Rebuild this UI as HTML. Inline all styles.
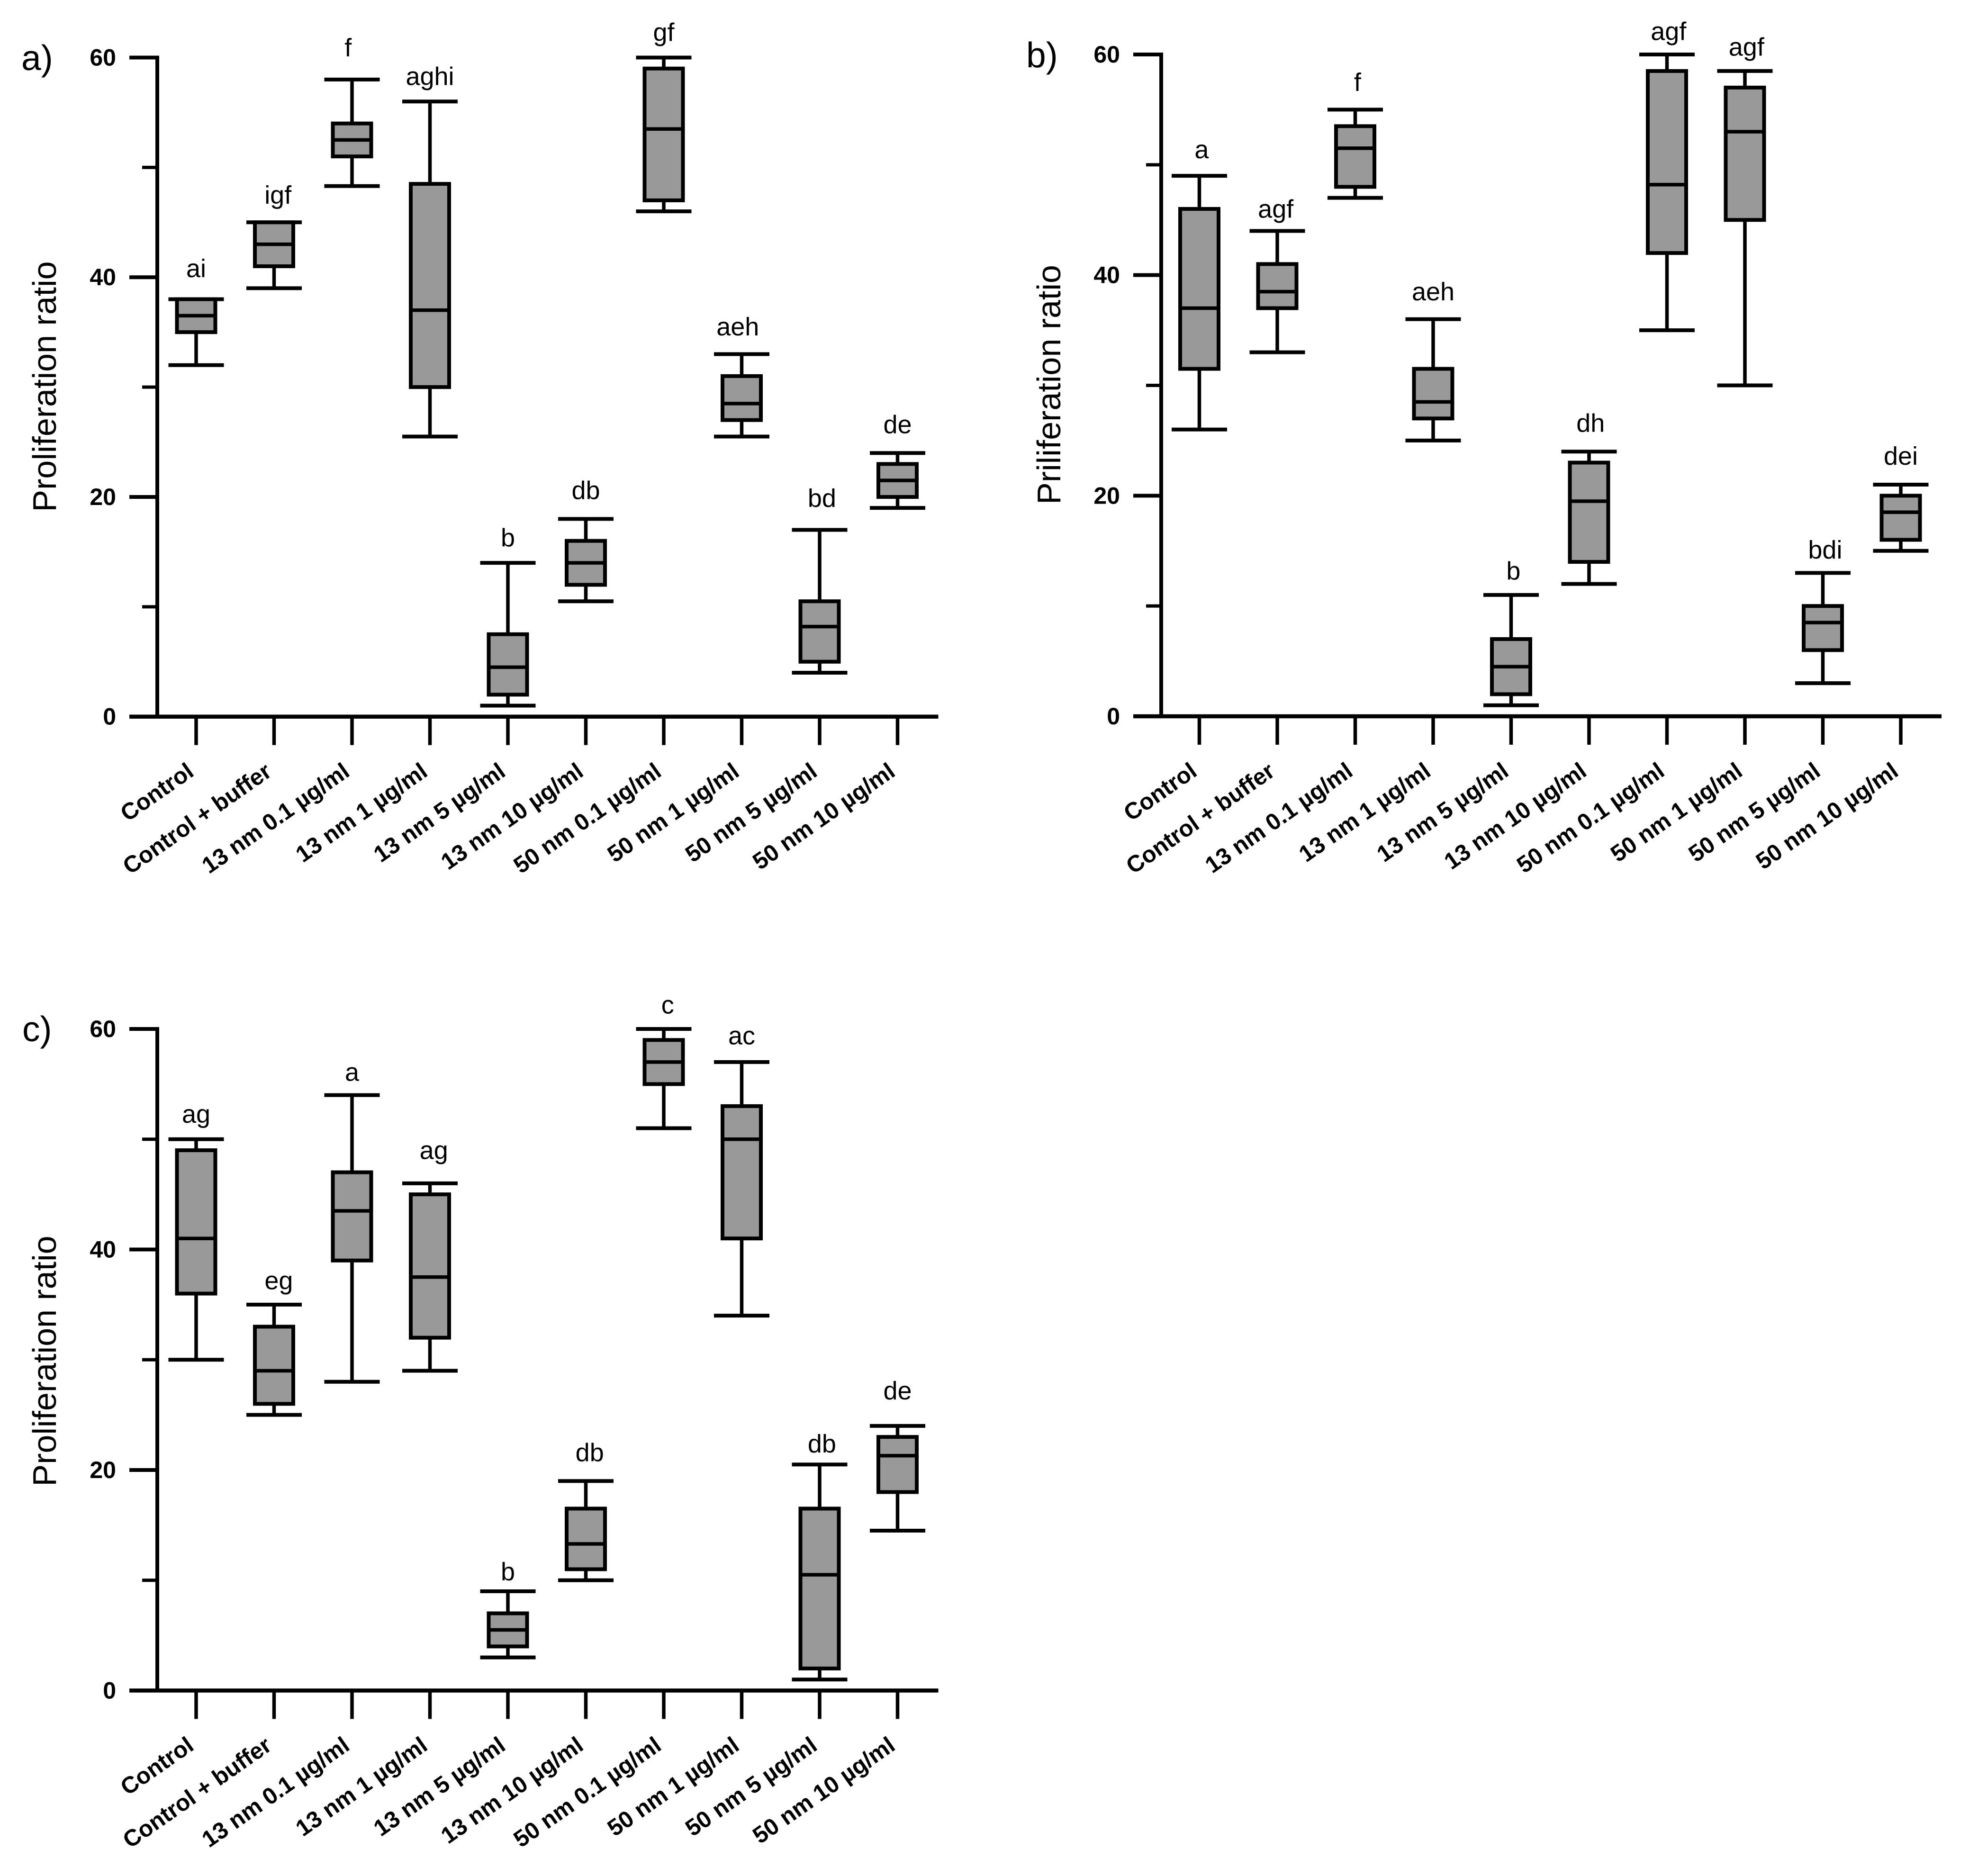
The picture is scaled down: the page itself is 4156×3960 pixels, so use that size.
<!DOCTYPE html>
<html lang="en">
<head>
<meta charset="utf-8">
<title>Proliferation ratio box plots</title>
<style>
  html, body { margin: 0; padding: 0; background: #fff; }
  #figure { display: block; width: 4156px; height: 3960px; }
  text { font-family: "Liberation Sans", sans-serif; fill: #000; }
</style>
</head>
<body>
<svg id="figure" xmlns="http://www.w3.org/2000/svg" width="4156" height="3960" viewBox="0 0 4156 3960"></svg>
<script>
// Shared categories and axis ticks
const categories = ["Control", "Control + buffer", "13 nm 0.1 µg/ml", "13 nm 1 µg/ml", "13 nm 5 µg/ml", "13 nm 10 µg/ml", "50 nm 0.1 µg/ml", "50 nm 1 µg/ml", "50 nm 5 µg/ml", "50 nm 10 µg/ml"];
const yMajorTicks = [0, 20, 40, 60];
const yMinorTicks = [10, 30, 50];

// Panel a
const aLow = [32, 39, 48.3, 25.5, 1, 10.5, 46, 25.5, 4, 19];
const aQ1 = [35, 41, 51, 30, 2, 12, 47, 27, 5, 20];
const aMedian = [36.5, 43, 52.5, 37, 4.5, 14, 53.5, 28.5, 8.2, 21.5];
const aQ3 = [38, 45, 54, 48.5, 7.5, 16, 59, 31, 10.5, 23];
const aHigh = [38, 45, 58, 56, 14, 18, 60, 33, 17, 24];
const aLetters = ["ai", "igf", "f", "aghi", "b", "db", "gf", "aeh", "bd", "de"];
const aLetterValues = [40, 46.7, 60.1, 57.5, 15.5, 19.8, 61.5, 34.7, 19.1, 25.8];
const aLetterNudge = [0, 0.05, -0.05, 0, 0, 0, 0, -0.05, 0.03, 0];

// Panel b
const bLow = [26, 33, 47, 25, 1, 12, 35, 30, 3, 15];
const bQ1 = [31.5, 37, 48, 27, 2, 14, 42, 45, 6, 16];
const bMedian = [37, 38.5, 51.5, 28.5, 4.5, 19.5, 48.2, 53, 8.5, 18.5];
const bQ3 = [46, 41, 53.5, 31.5, 7, 23, 58.5, 57, 10, 20];
const bHigh = [49, 44, 55, 36, 11, 24, 60, 58.5, 13, 21];
const bLetters = ["a", "agf", "f", "aeh", "b", "dh", "agf", "agf", "bdi", "dei"];
const bLetterValues = [50.6, 45.2, 56.7, 37.7, 12.4, 25.8, 61.3, 59.9, 14.3, 22.8];
const bLetterNudge = [0.03, -0.02, 0.03, 0, 0.03, 0.02, 0.02, 0.02, 0.03, 0];

// Panel c
const cLow = [30, 25, 28, 29, 3, 10, 51, 34, 1, 14.5];
const cQ1 = [36, 26, 39, 32, 4, 11, 55, 41, 2, 18];
const cMedian = [41, 29, 43.5, 37.5, 5.5, 13.3, 57, 50, 10.5, 21.3];
const cQ3 = [49, 33, 47, 45, 7, 16.5, 59, 53, 16.5, 23];
const cHigh = [50, 35, 54, 46, 9, 19, 60, 57, 20.5, 24];
const cLetters = ["ag", "eg", "a", "ag", "b", "db", "c", "ac", "db", "de"];
const cLetterValues = [51.5, 36.4, 55.3, 48.2, 10, 20.8, 61.4, 58.6, 21.6, 26.4];
const cLetterNudge = [0, 0.06, 0, 0.05, 0, 0.05, 0.05, 0, 0.03, 0];

const SVG_NS = "http://www.w3.org/2000/svg";
const figure = document.getElementById("figure");

function makeLine(parent, x1, y1, x2, y2, width, name) {
  const el = document.createElementNS(SVG_NS, "line");
  el.setAttribute("x1", x1);
  el.setAttribute("y1", y1);
  el.setAttribute("x2", x2);
  el.setAttribute("y2", y2);
  el.setAttribute("stroke", "#000");
  el.setAttribute("stroke-width", width);
  
  
  parent.appendChild(el);
  return el;
}

function makeText(parent, x, y, content, size, weight, anchor, name, transform) {
  const el = document.createElementNS(SVG_NS, "text");
  el.setAttribute("x", x);
  el.setAttribute("y", y);
  el.setAttribute("font-size", size);
  el.setAttribute("font-weight", weight);
  el.setAttribute("text-anchor", anchor);
  if (transform) el.setAttribute("transform", transform);
  el.textContent = content;
  
  
  parent.appendChild(el);
  return el;
}

function drawPanel(cfg) {
  const yScale = function (v) { return cfg.y0 - v * (cfg.y0 - cfg.y60) / 60; };
  const xScale = function (i) { return cfg.firstX + i * cfg.stepX; };

  const group = document.createElementNS(SVG_NS, "g");
  
  
  figure.appendChild(group);

  makeText(group, cfg.letterX, cfg.letterY, cfg.id + ")", 75, "normal", "start", "panel-label-" + cfg.id);

  makeLine(group, cfg.axisX, yScale(60) - 4, cfg.axisX, cfg.y0, 8, "y-axis-line");
  makeLine(group, cfg.axisX - 59, cfg.y0, xScale(categories.length - 1) + 86, cfg.y0, 8.5, "x-axis-line");

  yMajorTicks.forEach(function (t) {
    if (t !== 0) makeLine(group, cfg.axisX - 59, yScale(t), cfg.axisX, yScale(t), 8, "y-tick-" + t);
    makeText(group, cfg.axisX - 87, yScale(t) + 17, String(t), 50, "bold", "end", "y-tick-label-" + t);
  });
  yMinorTicks.forEach(function (t) {
    makeLine(group, cfg.axisX - 32, yScale(t), cfg.axisX, yScale(t), 7, "y-minor-tick-" + t);
  });

  const titleX = cfg.titleX;
  makeText(group, titleX, cfg.titleY, cfg.title, 70, "normal", "middle", "y-axis-title",
    "rotate(-90 " + titleX + " " + cfg.titleY + ")");

  categories.forEach(function (cat, i) {
    const x = xScale(i);
    makeLine(group, x, cfg.y0, x, cfg.y0 + 60, 7.5, "x-tick-" + i);
    const lx = x - 2;
    const ly = cfg.y0 + 123;
    makeText(group, lx, ly, cat, 49, "bold", "end", "x-tick-label-" + i,
      "rotate(-35 " + lx + " " + ly + ")");

    const box = document.createElementNS(SVG_NS, "g");
    
    
    group.appendChild(box);

    makeLine(box, x, yScale(cfg.high[i]), x, yScale(cfg.q3[i]), 7.5, "whisker-high");
    makeLine(box, x, yScale(cfg.q1[i]), x, yScale(cfg.low[i]), 7.5, "whisker-low");
    makeLine(box, x - 58.5, yScale(cfg.high[i]), x + 58.5, yScale(cfg.high[i]), 8, "cap-high");
    makeLine(box, x - 58.5, yScale(cfg.low[i]), x + 58.5, yScale(cfg.low[i]), 8, "cap-low");

    const rect = document.createElementNS(SVG_NS, "rect");
    rect.setAttribute("x", x - 40.5);
    rect.setAttribute("y", yScale(cfg.q3[i]));
    rect.setAttribute("width", 81);
    rect.setAttribute("height", yScale(cfg.q1[i]) - yScale(cfg.q3[i]));
    rect.setAttribute("fill", "#999999");
    rect.setAttribute("stroke", "#000");
    rect.setAttribute("stroke-width", 8);
    
    
    box.appendChild(rect);

    makeLine(box, x - 40.5, yScale(cfg.median[i]), x + 40.5, yScale(cfg.median[i]), 7.5, "median-line");

    makeText(group, xScale(i + cfg.letterNudge[i]), yScale(cfg.letterValues[i]), cfg.letters[i], 54, "normal", "middle", "significance-letters-" + i);
  });
}

drawPanel({ id: "a", title: "Proliferation ratio", axisX: 332, y60: 121.5, y0: 1512.7, firstX: 414, stepX: 164.5,
  letterX: 45, letterY: 148, titleX: 118, titleY: 816,
  low: aLow, q1: aQ1, median: aMedian, q3: aQ3, high: aHigh, letters: aLetters, letterValues: aLetterValues, letterNudge: aLetterNudge });

drawPanel({ id: "b", title: "Priliferation ratio", axisX: 2451, y60: 115, y0: 1512, firstX: 2531.5, stepX: 164.5,
  letterX: 2166, letterY: 142, titleX: 2238, titleY: 812,
  low: bLow, q1: bQ1, median: bMedian, q3: bQ3, high: bHigh, letters: bLetters, letterValues: bLetterValues, letterNudge: bLetterNudge });

drawPanel({ id: "c", title: "Proliferation ratio", axisX: 332, y60: 2172, y0: 3568.5, firstX: 414, stepX: 164.5,
  letterX: 47, letterY: 2198, titleX: 118, titleY: 2873,
  low: cLow, q1: cQ1, median: cMedian, q3: cQ3, high: cHigh, letters: cLetters, letterValues: cLetterValues, letterNudge: cLetterNudge });
</script>
</body>
</html>
